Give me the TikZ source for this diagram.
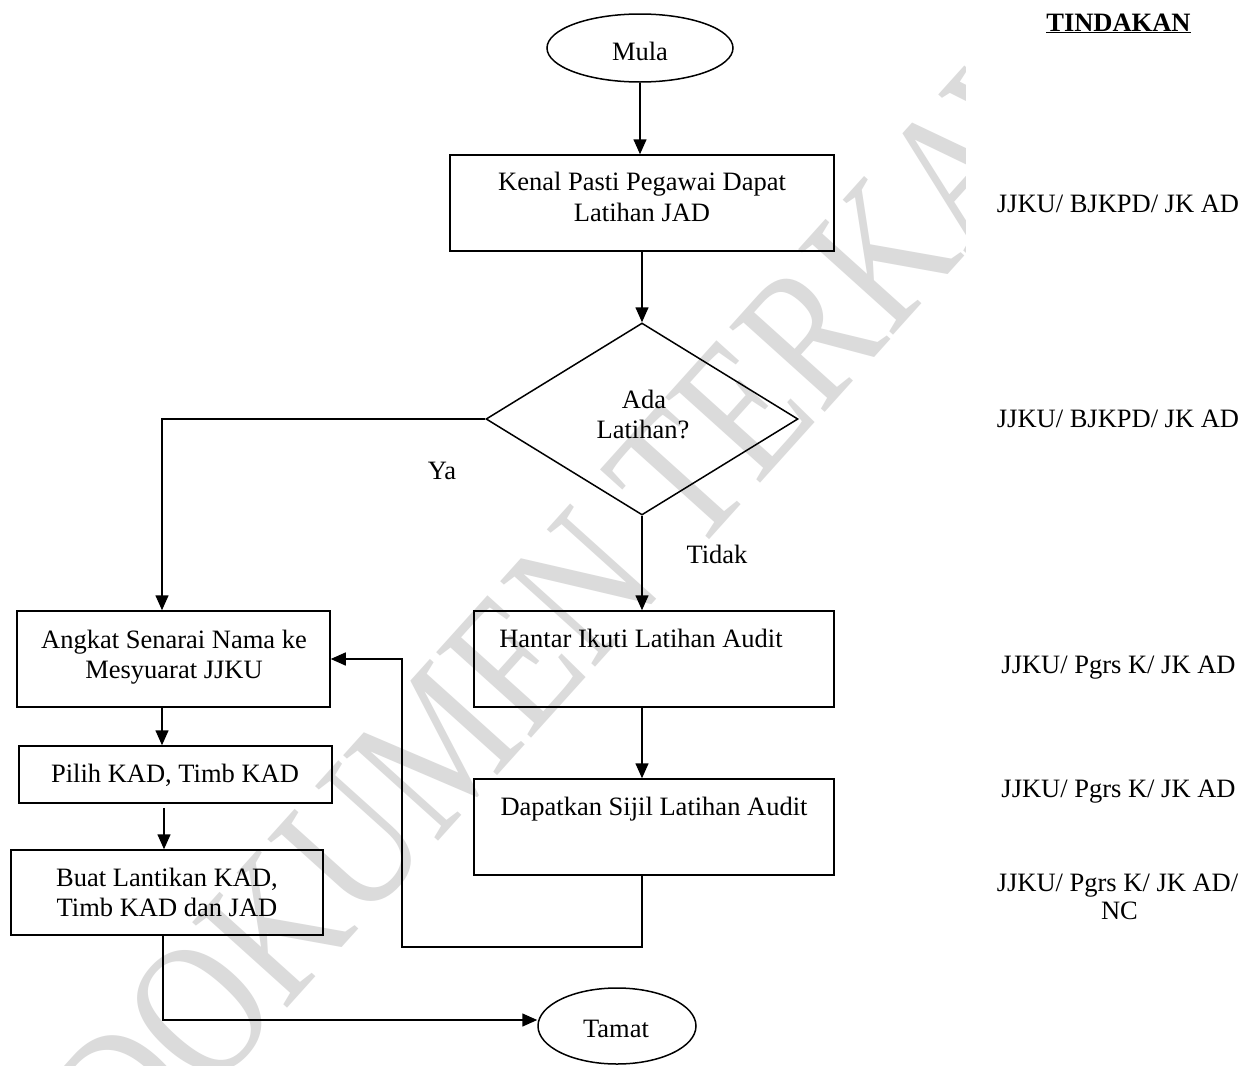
\documentclass[tikz,border=0pt]{standalone}
\usepackage{fontspec}
\setmainfont{Liberation Serif}
\usetikzlibrary{shapes.geometric,arrows.meta}

\begin{document}
\begin{tikzpicture}[x=1pt,y=-1pt,
  every node/.style={font=\fontsize{26.5}{30}\selectfont},
  flowbox/.style={draw,rectangle,line width=1.5pt,inner sep=0pt},
  terminal/.style={draw,ellipse,line width=1.5pt,inner sep=0pt},
  decision/.style={draw,diamond,line width=1.5pt,inner sep=0pt},
  txt/.style={anchor=base,inner sep=0pt},
  link/.style={line width=1.5pt,-{Triangle[length=15pt,width=13pt]}},
  wire/.style={line width=1.5pt}]

\useasboundingbox[fill=white] (0,0) rectangle (1254,1066);

% faint background stamp
\begin{scope}
  \clip (0,0) rectangle (965,1066);
  \node[rotate=48,yscale=1.25,text=black!14,inner sep=0pt,
        font=\fontsize{156}{156}\selectfont] (stamp) at (650,512) {DOKUMEN TERKAWAL};
\end{scope}

% terminals
\node[terminal,minimum width=186pt,minimum height=68pt] (mula) at (640,48) {};
\node[txt] (mulaT) at (640,60) {Mula};
\node[terminal,minimum width=158pt,minimum height=76pt] (tamat) at (617,1026) {};
\node[txt] (tamatT) at (616,1037) {Tamat};

% process boxes
\node[flowbox,minimum width=384pt,minimum height=96pt] (kenal) at (642,203) {};
\node[txt] (kenalA) at (642,190.7) {Kenal Pasti Pegawai Dapat};
\node[txt] (kenalB) at (642,221.7) {Latihan JAD};

\node[decision,minimum width=312pt,minimum height=192pt] (dec) at (642,419) {};
\node[txt] (decA) at (644,408) {Ada};
\node[txt] (decB) at (643,438) {Latihan?};

\node[flowbox,minimum width=313pt,minimum height=96pt] (angkat) at (173.5,659) {};
\node[txt] (angkatA) at (174,648) {Angkat Senarai Nama ke};
\node[txt] (angkatB) at (174,678) {Mesyuarat JJKU};

\node[flowbox,minimum width=313pt,minimum height=57pt] (pilih) at (175.5,774.5) {};
\node[txt] (pilihT) at (175,782) {Pilih KAD, Timb KAD};

\node[flowbox,minimum width=312pt,minimum height=85pt] (buat) at (167,892.5) {};
\node[txt] (buatA) at (167,886.7) {Buat Lantikan KAD,};
\node[txt] (buatB) at (167,916.7) {Timb KAD dan JAD};

\node[flowbox,minimum width=360pt,minimum height=96pt] (hantar) at (654,659) {};
\node[txt] (hantarT) at (641,647) {Hantar Ikuti Latihan Audit};

\node[flowbox,minimum width=360pt,minimum height=96pt] (dapat) at (654,827) {};
\node[txt] (dapatT) at (654,815) {Dapatkan Sijil Latihan Audit};

% branch labels
\node[txt] (ya) at (442,479) {Ya};
\node[txt] (tidak) at (717,563) {Tidak};

% action column
\node[txt] (head) at (1118.5,31) {\bfseries\underline{TINDAKAN}};
\node[txt] (act1) at (1118,212) {JJKU/ BJKPD/ JK AD};
\node[txt] (act2) at (1118,427) {JJKU/ BJKPD/ JK AD};
\node[txt] (act3) at (1118.5,673) {JJKU/ Pgrs K/ JK AD};
\node[txt] (act4) at (1118.5,797) {JJKU/ Pgrs K/ JK AD};
\node[txt] (act5) at (1117.5,891) {JJKU/ Pgrs K/ JK AD/};
\node[txt] (act6) at (1119.5,919) {NC};

% connectors
\draw[link] (mula.south) -- (mula.south |- kenal.north);
\draw[link] (kenal.south) -- (dec.north);
\draw[link] (dec.west) -| ([xshift=-11.5pt]angkat.north);
\draw[link] (dec.south) -- (dec.south |- hantar.north);
\draw[link] (dec.south |- hantar.south) -- (dec.south |- dapat.north);
\coordinate (loopturn) at (402,947);
\draw[link] (dec.south |- dapat.south) |- (loopturn) |- (angkat.east);
\draw[link] ([xshift=-11.5pt]angkat.south) -- ([xshift=-11.5pt]angkat.south |- pilih.north);
\draw[link] ([xshift=-11.5pt,yshift=-4pt]pilih.south) -- ([xshift=-11.5pt]pilih.south |- buat.north);
\draw[link] ([xshift=-4pt]buat.south) |- ([yshift=6pt]tamat.west);
\end{tikzpicture}
\end{document}
